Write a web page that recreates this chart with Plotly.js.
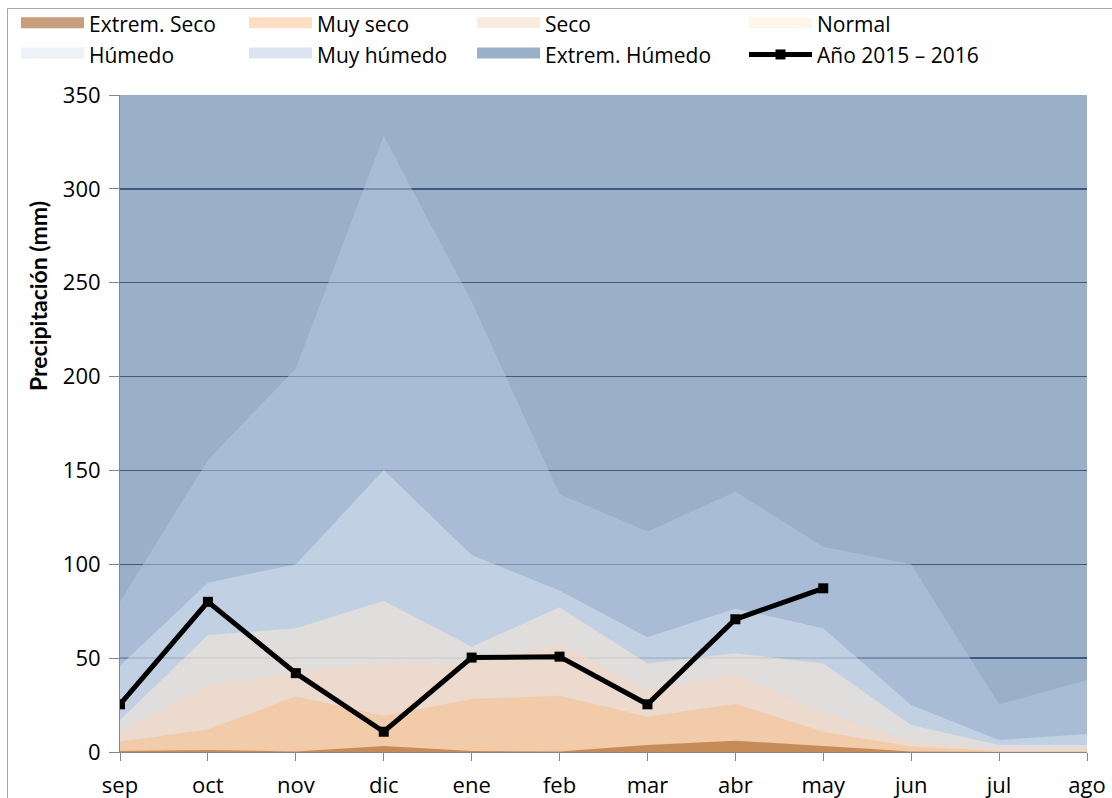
<!DOCTYPE html>
<html><head><meta charset="utf-8">
<script src="https://cdn.plot.ly/plotly-3.0.1.min.js"></script>
<style>html,body{margin:0;padding:0;background:#fff;overflow:hidden}</style>
</head><body><div id="chart" style="width:1112px;height:798px"></div>
<script>
// ---- data (mm), cumulative upper limit of each class ----
const months = ['sep','oct','nov','dic','ene','feb','mar','abr','may','jun','jul','ago'];
const extremSeco   = [0.5, 1, 0.3, 3.2, 0.5, 0.3, 3.7, 6, 3.2, 0.2, 0, 0];
const muySeco      = [5.5, 12, 29.5, 19.3, 28.2, 30, 18.8, 25.6, 10.8, 2.8, 0.5, 0.5];
const seco         = [10.8, 35.7, 42.8, 47.8, 47.2, 57.9, 33, 41.6, 21.5, 5.5, 1.4, 1.4];
const normal       = [17, 62.3, 65.9, 80.6, 56.1, 77.1, 47.2, 52.6, 47.2, 14.4, 3.7, 3.7];
const humedo       = [46, 90.2, 100, 150.2, 105, 86, 61.1, 76.5, 65.9, 25, 6.4, 9.6];
const muyHumedo    = [80, 155.6, 204.4, 328.2, 240, 137.4, 117.4, 138.7, 109.4, 100, 25.4, 38.4];
const extremHumedo = [350, 350, 350, 350, 350, 350, 350, 350, 350, 350, 350, 350];
const anio2015     = [25.4, 80, 42, 10.8, 50.3, 50.8, 25.4, 70.7, 87.2, null, null, null];
const yTicks = [0, 50, 100, 150, 200, 250, 300, 350];

// ---- geometry helpers ----
const W = 1112, H = 798, L = 120, R = 25, T = 95, B = 46;
const pw = W - L - R, ph = H - T - B;
const px = x => (x - L) / pw;
const py = y => (H - B - y) / ph;

const layers = [
  {name:'Extrem. Húmedo', y:extremHumedo, fill:'rgba(87,122,163,0.6)',  legendColor:'rgb(154,175,200)', legend:'legend3', rank:2},
  {name:'Muy húmedo',     y:muyHumedo,    fill:'rgba(184,201,228,0.5)', legendColor:'rgb(220,228,242)', legend:'legend2', rank:2},
  {name:'Húmedo',         y:humedo,       fill:'rgba(219,228,240,0.5)', legendColor:'rgb(237,242,248)', legend:'legend',  rank:2},
  {name:'Normal',         y:normal,       fill:'rgba(254,234,215,0.5)', legendColor:'rgb(254,245,235)', legend:'legend4', rank:1},
  {name:'Seco',           y:seco,         fill:'rgba(246,215,189,0.5)', legendColor:'rgb(251,235,222)', legend:'legend3', rank:1},
  {name:'Muy seco',       y:muySeco,      fill:'rgba(249,188,135,0.5)', legendColor:'rgb(252,222,197)', legend:'legend2', rank:1},
  {name:'Extrem. Seco',   y:extremSeco,   fill:'rgba(178,112,56,0.7)',  legendColor:'rgb(201,158,124)', legend:'legend',  rank:1}
];

const traces = [];
layers.forEach(l => {
  traces.push({x: months, y: l.y, type:'scatter', mode:'lines', fill:'tozeroy',
    fillcolor: l.fill, line:{width:0, color:l.fill}, showlegend:false, hoverinfo:'skip'});
});
layers.forEach(l => {
  traces.push({x:[null], y:[null], type:'scatter', mode:'lines', fill:'tozeroy',
    fillcolor: l.legendColor, line:{width:10, color:l.legendColor},
    name: l.name, legend: l.legend, legendrank: l.rank, showlegend:true});
});
traces.push({x: months, y: anio2015, type:'scatter', mode:'lines+markers', name:'Año 2015 – 2016',
  line:{color:'#000', width:5}, marker:{symbol:'square', size:10, color:'#000'},
  legend:'legend4', legendrank:2, hoverinfo:'skip'});

const legFont = {family:'Open Sans', size:21, color:'#000'};
function leg(xpix){
  return {orientation:'v', x:px(xpix), xanchor:'left', y:py(4), yanchor:'top',
    bgcolor:'rgba(0,0,0,0)', borderwidth:0, font:legFont, itemwidth:63,
    traceorder:'normal', tracegroupgap:0};
}

const layout = {
  width: W, height: H, autosize:false,
  margin:{l:L, r:R, t:T, b:B, autoexpand:false},
  paper_bgcolor:'#fff', plot_bgcolor:'#fff',
  showlegend:true,
  legend: leg(16), legend2: leg(244), legend3: leg(472), legend4: leg(744),
  xaxis:{type:'category', range:[0, 11], showgrid:false, zeroline:false,
    showline:true, linecolor:'#868686', linewidth:1,
    ticks:'outside', ticklen:8, tickcolor:'#868686',
    tickfont:{family:'Open Sans', size:22, color:'#000'}, ticklabelstandoff:6, fixedrange:true},
  yaxis:{range:[0, 350], tickvals:yTicks, ticktext:yTicks.map(String),
    showgrid:true, gridcolor:'rgb(28,42,62)', gridwidth:1.5, zeroline:false,
    showline:true, linecolor:'#868686', linewidth:1,
    ticks:'outside', ticklen:10, tickcolor:'#868686',
    tickfont:{family:'Open Sans', size:22, color:'#000'}, ticklabelstandoff:4, fixedrange:true},
  annotations:[{text:'Precipitación (mm)', xref:'paper', yref:'paper', x:px(38), y:py(296),
    xanchor:'center', yanchor:'middle', textangle:-90, showarrow:false,
    font:{family:'Lato', size:23, color:'#000', weight:700}}],
  shapes:[{type:'rect', xref:'paper', yref:'paper', x0:px(7.5), x1:px(1400), y0:py(1100), y1:py(8.5),
    line:{color:'#a6a6a6', width:1}, fillcolor:'rgba(0,0,0,0)', layer:'below'}]
};

Plotly.newPlot('chart', traces, layout, {displayModeBar:false, staticPlot:true});
</script></body></html>
